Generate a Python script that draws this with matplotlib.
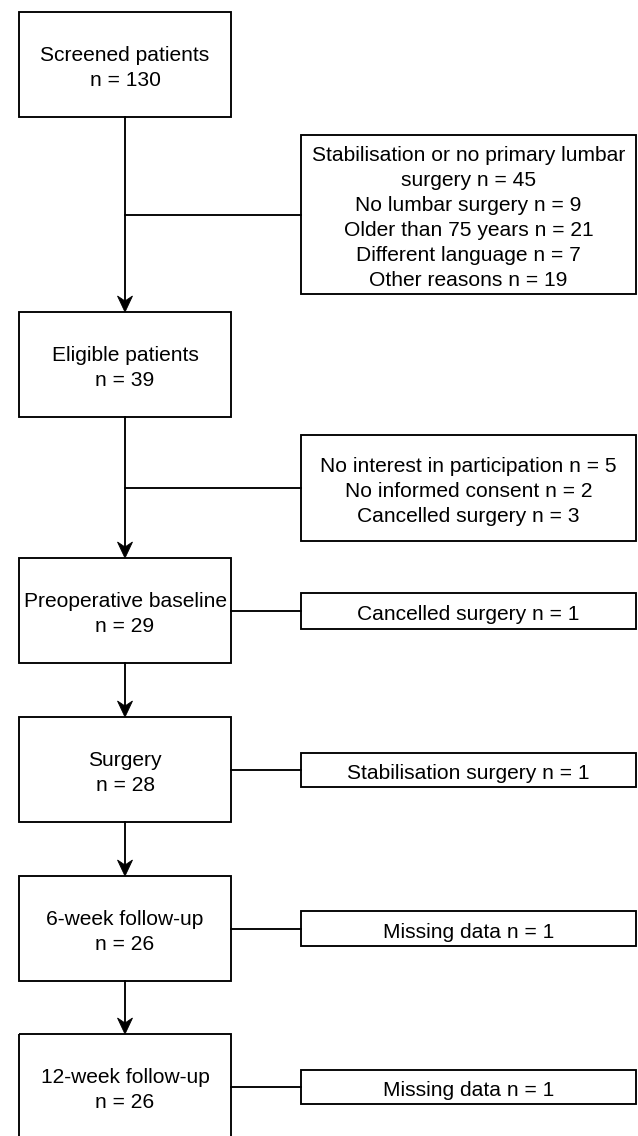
import textwrap
import matplotlib
matplotlib.use("Agg")
import matplotlib.pyplot as plt
from matplotlib.patches import Rectangle, Polygon

# ---- data ----
stage_labels = ["Screened patients", "Eligible patients", "Preoperative baseline",
                "Surgery", "6-week follow-up", "12-week follow-up"]
stage_n = [130, 39, 29, 28, 26, 26]

excl_reasons = [
    ["Stabilisation or no primary lumbar surgery", "No lumbar surgery",
     "Older than 75 years", "Different language", "Other reasons"],
    ["No interest in participation", "No informed consent", "Cancelled surgery"],
    ["Cancelled surgery"],
    ["Stabilisation surgery"],
    ["Missing data"],
    ["Missing data"],
]
excl_counts = [[45, 9, 21, 7, 19], [5, 2, 3], [1], [1], [1], [1]]

# ---- layout (pixel coordinates) ----
W, H = 638, 1136
DPI = 100
FS = 21 * 72 / DPI          # 21 px font
LINE_H = 25.0
TEXT_DY = 3.5
LW = 1.35

left_x0, left_x1 = 19, 231
left_tops = [12, 312, 558, 717, 876, 1034]
left_h = 105
right_x0, right_x1 = 301, 636
right_boxes = [(135, 294), (435, 541), (593, 629), (753, 787), (911, 946), (1070, 1104)]
conn_from_line = [True, True, False, False, False, False]

fig = plt.figure(figsize=(W / DPI, H / DPI), dpi=DPI)
ax = fig.add_axes([0, 0, 1, 1])
ax.set_xlim(0, W)
ax.set_ylim(H, 0)
ax.axis("off")

font = dict(family=["Liberation Sans", "DejaVu Sans"], fontsize=FS, color="black")


def draw_lines(lines, cx, cy):
    n = len(lines)
    for i, s in enumerate(lines):
        y = cy + (i - (n - 1) / 2) * LINE_H + TEXT_DY
        ax.text(cx, y, s, ha="center", va="center", **font)


def arrow_head(x, ytip):
    pts = [(x, ytip), (x - 7.5, ytip - 16), (x, ytip - 11), (x + 7.5, ytip - 16)]
    ax.add_patch(Polygon(pts, closed=True, facecolor="black", edgecolor="black",
                         linewidth=0.6, zorder=4))


cx_left = (left_x0 + left_x1) / 2
cx_right = (right_x0 + right_x1) / 2

# left boxes
for top, lab, n in zip(left_tops, stage_labels, stage_n):
    ax.add_patch(Rectangle((left_x0, top), left_x1 - left_x0, left_h, fill=False,
                           edgecolor="black", linewidth=LW, zorder=3))
    draw_lines([lab, f"n = {n}"], cx_left, top + left_h / 2)

# vertical arrows
for i in range(len(left_tops) - 1):
    y0 = left_tops[i] + left_h
    y1 = left_tops[i + 1]
    ax.plot([cx_left, cx_left], [y0, y1 - 8], color="black", linewidth=LW, zorder=2)
    arrow_head(cx_left, y1)

# right boxes + connectors
for (t, b), reasons, counts, from_line in zip(right_boxes, excl_reasons,
                                              excl_counts, conn_from_line):
    ax.add_patch(Rectangle((right_x0, t), right_x1 - right_x0, b - t, fill=False,
                           edgecolor="black", linewidth=LW, zorder=3))
    lines = []
    for r, c in zip(reasons, counts):
        lines += textwrap.wrap(f"{r} n = {c}", width=34)
    cy = (t + b) / 2
    draw_lines(lines, cx_right, cy)
    x_start = cx_left if from_line else left_x1
    ax.plot([x_start, right_x0], [cy, cy], color="black", linewidth=LW, zorder=2)

fig.savefig("out.png", dpi=DPI, facecolor="white")
